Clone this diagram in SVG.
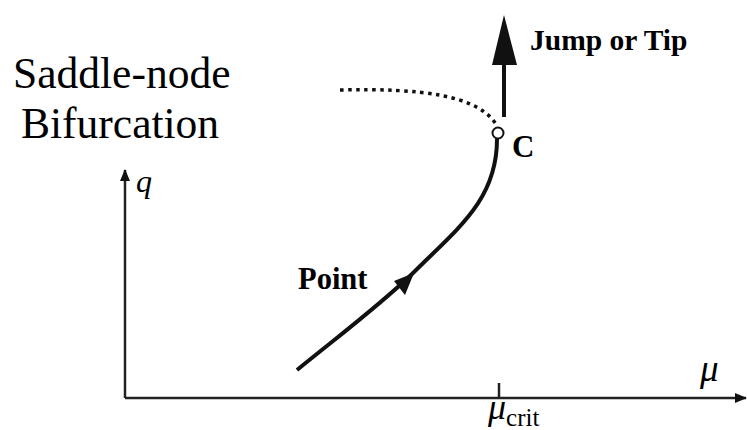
<svg xmlns="http://www.w3.org/2000/svg" width="747" height="430" viewBox="0 0 747 430">
<style>
text{font-family:'Liberation Serif','DejaVu Serif',serif;fill:#000}
.b{font-weight:bold}
.i{font-style:italic}
.ax{stroke:#222;stroke-width:2.5;fill:none}
</style>
<defs>
<marker id="ah" markerWidth="12" markerHeight="10" refX="11" refY="5" orient="auto" markerUnits="userSpaceOnUse">
<path d="M0,0 L12,5 L0,10 Z" fill="#111"/>
</marker>
</defs>
<rect width="747" height="430" fill="#fff"/>
<g id="title">
<text x="13" y="88" font-size="43.5">Saddle-node</text>
<text x="21" y="138" font-size="43.5">Bifurcation</text>
</g>
<g id="axes">
<line class="ax" x1="125" y1="398" x2="125" y2="170" marker-end="url(#ah)"/>
<line class="ax" x1="125" y1="398" x2="746" y2="398" marker-end="url(#ah)"/>
<line class="ax" x1="499" y1="383" x2="499" y2="398" stroke-width="2"/>
<text class="i" x="136" y="192" font-size="32">q</text>
<text class="i" x="700" y="381" font-size="37">μ</text>
<text x="488" y="419" font-size="36"><tspan class="i">μ</tspan><tspan font-size="25" dy="7">crit</tspan></text>
</g>
<g id="connectors">
<path d="M 297,370 C 340,335 380,305 412,274 C 458,228 497,200 497,139" fill="none" stroke="#111" stroke-width="4"/>
<path d="M 414,273 L 394,281 L 405,295 Z" fill="#111"/>
<path d="M 340,90 C 420,88 480,95 497,126" fill="none" stroke="#111" stroke-width="3.5" stroke-dasharray="3.5,4.5"/>
<line x1="504" y1="117" x2="504" y2="60" stroke="#111" stroke-width="4"/>
<path d="M504,15 L517,65 L492,65 Z" fill="#111"/>
</g>
<g id="C">
<circle cx="498" cy="133" r="5.5" fill="#fff" stroke="#111" stroke-width="2"/>
<text class="b" x="512" y="157" font-size="31">C</text>
</g>
<g id="labels">
<text class="b" x="530" y="50" font-size="29.5">Jump or Tip</text>
<text class="b" x="298" y="289" font-size="30.5">Point</text>
</g>
</svg>
